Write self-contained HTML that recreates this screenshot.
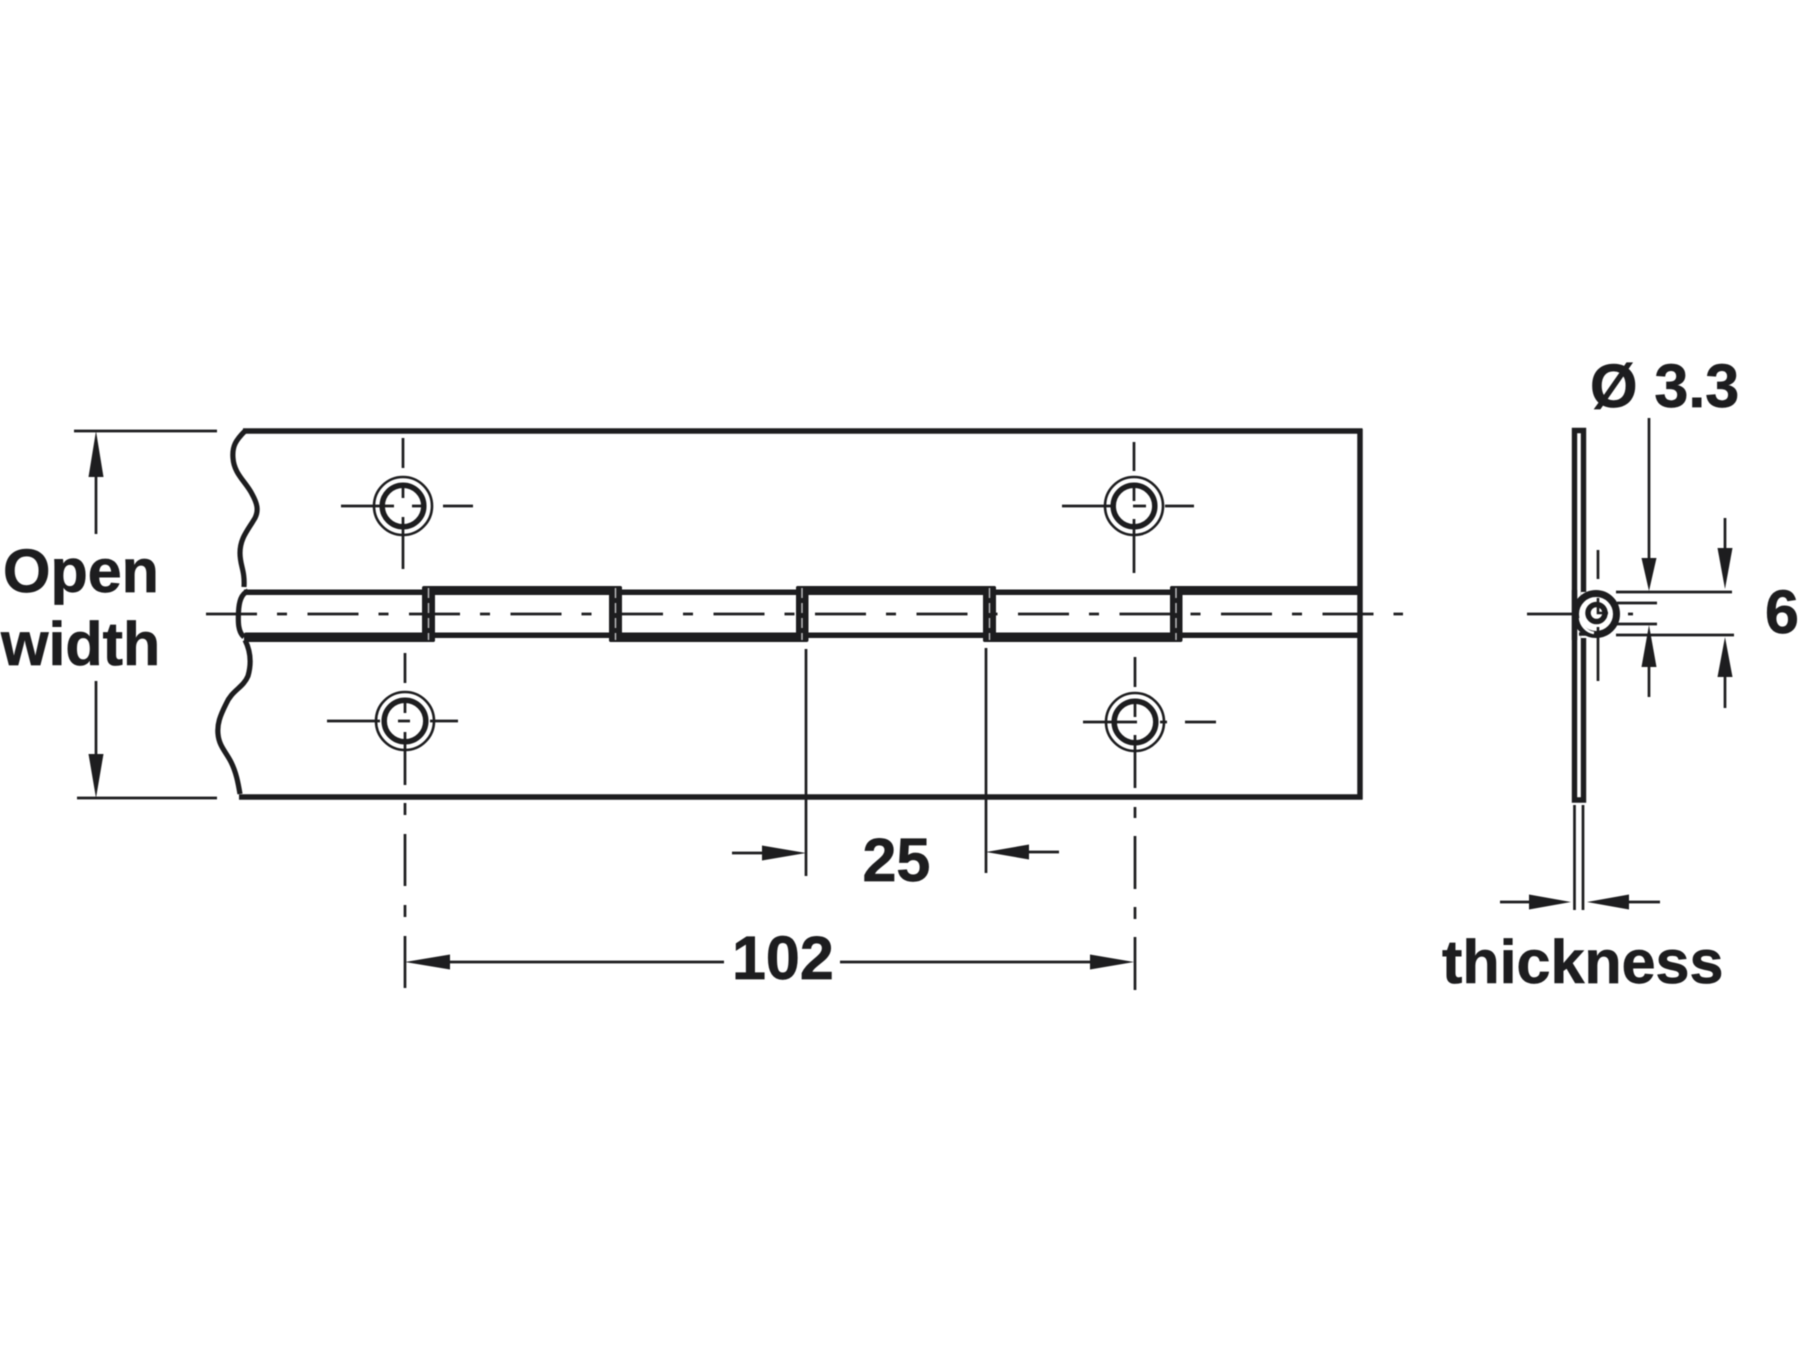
<!DOCTYPE html>
<html><head><meta charset="utf-8"><style>
html,body{margin:0;padding:0;background:#fff;width:1800px;height:1350px;overflow:hidden}
svg{display:block;filter:blur(0.5px)}
text{font-family:"Liberation Sans",Arial,sans-serif;font-weight:700;font-size:61px;fill:#1d1d1f;stroke:#1d1d1f;stroke-width:.7px}
</style></head><body>
<svg width="1800" height="1350" viewBox="0 0 1800 1350" xmlns="http://www.w3.org/2000/svg">
<rect width="1800" height="1350" fill="#fff"/>
<g fill="none" stroke="#1d1d1f" stroke-linecap="butt">
 <!-- outline -->
 <g stroke-width="5.5">
  <path d="M243 431H1362.5M239 797H1362.5"/>
  <path d="M1360 429V799.5"/>
  <path stroke-width="5.2" d="M245 431C236 440 232 446 233 458C234 474 246 482 252 494C257 503 259 510 255 518C248 530 240 538 240 553C240 566 245 570 244 587M248 591C241 594 239 602 238.5 612C238 622 238 632 244 637"/>
  <path stroke-width="5.2" d="M245 640C250 650 252 662 248 676C243 688 232 690 226 704C220 716 217 724 218 734C219 746 226 752 231 762C236 772 238 782 240 794"/>
 </g>
 <!-- centre line -->
 <path stroke-width="2.7" stroke-dasharray="51 20 10 20.5" d="M206 614H1403"/>
 <g stroke-width="2.7">
  <path d="M341 506H394M412 506H423M443 506H473M403 438V468M403 485V498M403 517V569"/>
  <path d="M327 721H380M398 721H410M430 721H458M405 653V683M405 702V713M405 732V785M405 803V815M405 834V886M405 905V917M405 936V988"/>
  <path d="M1062 506H1112M1133 506H1146M1165 506H1194M1134 442V471M1134 488V501M1134 519V573"/>
  <path d="M1083 722H1137M1160 722H1167M1185 722H1216M1135 657V687M1135 703V717M1135 735V788M1135 807V818M1135 836V889M1135 907V919M1135 937V990"/>
  <path d="M806 649V876M986 648V873"/>
  <path d="M74 431H217M77 798H217M96 477V534M96 681V754"/>
  <path d="M450 962H724M840 962H1090M732 853H765M1026 852H1059"/>
  <path d="M1649 418V560M1725 518V550M1649 665V697M1725 675V708"/>
  <path d="M1616 592H1732M1617 603H1657M1617 624H1657M1616 635H1734"/>
  <path d="M1574.5 805V910M1583 805V910M1500 902H1532M1626 902H1660"/>
  <path d="M1527 614H1576M1628 614H1633M1598 550V579M1598 627V681"/>
 </g>
 <g>
  <circle cx="403" cy="506" r="29" stroke-width="2.6"/><circle cx="403" cy="506" r="20.8" stroke-width="5.5"/>
  <circle cx="405" cy="721" r="29" stroke-width="2.6"/><circle cx="405" cy="721" r="20.8" stroke-width="5.5"/>
  <circle cx="1134" cy="506" r="29" stroke-width="2.6"/><circle cx="1134" cy="506" r="20.8" stroke-width="5.5"/>
  <circle cx="1135" cy="722" r="29" stroke-width="2.6"/><circle cx="1135" cy="722" r="20.8" stroke-width="5.5"/>
 </g>
 <!-- side plate -->
 <path stroke-width="5.4" d="M1574.5 800V430.5H1583.5V800H1574.5Z"/>
</g>
<g fill="#1d1d1f">
 <!-- barrel -->
 <rect x="244" y="589.5" width="180" height="5.5"/><rect x="621" y="589.5" width="176" height="5.5"/><rect x="995" y="589.5" width="176" height="5.5"/>
 <rect x="423" y="586" width="199" height="9" rx="2"/><rect x="796" y="586" width="200" height="9" rx="2"/><rect x="1170" y="586" width="192" height="9" rx="2"/>
 <rect x="434" y="632.5" width="176" height="5.5"/><rect x="807" y="632.5" width="177" height="5.5"/><rect x="1181" y="632.5" width="181" height="5.5"/>
 <rect x="244" y="632.5" width="191" height="9.5" rx="2"/><rect x="609" y="632.5" width="199" height="9.5" rx="2"/><rect x="983" y="632.5" width="199" height="9.5" rx="2"/>
 <rect x="422" y="586" width="13" height="56" rx="2"/><rect x="609" y="586" width="13" height="56" rx="2"/><rect x="796" y="586" width="12.5" height="56" rx="2"/><rect x="983" y="586" width="13" height="56" rx="2"/><rect x="1170" y="586" width="12.5" height="56" rx="2"/>
 <!-- arrowheads -->
 <path d="M96 431L103.5 477H88.5Z"/><path d="M96 798L103.5 754H88.5Z"/>
 <path d="M405 962L450 954.5V969.5Z"/><path d="M1134 962L1090 954.5V969.5Z"/>
 <path d="M806 853L762 845.5V860.5Z"/><path d="M986 852L1029 844.5V859.5Z"/>
 <path d="M1649 591L1641.5 558H1656.5Z"/><path d="M1725 589L1717.5 548H1732.5Z"/>
 <path d="M1649 625L1641.5 667H1656.5Z"/><path d="M1725 637L1717.5 677H1732.5Z"/>
 <path d="M1571 902L1529 894.5V909.5Z"/><path d="M1587 902L1629 894.5V909.5Z"/>
</g>
<g fill="none" stroke="#c4c4c6" stroke-width="1.4" stroke-dasharray="10 5">
 <path d="M428.5 588V640M615.5 588V640M802 588V640M989.5 588V640M1176 588V640"/>
</g>
<!-- barrel end view -->
<rect x="1581" y="592" width="8" height="46" fill="#fff"/>
<circle cx="1596" cy="614" r="20.5" fill="#fff" stroke="#1d1d1f" stroke-width="7"/>
<path d="M1574.5 590V640" stroke="#1d1d1f" stroke-width="5.4" fill="none"/>
<path d="M1579 634H1586" stroke="#1d1d1f" stroke-width="3.5" fill="none"/>
<path d="M1580 618A17 17 0 0 0 1594 633" stroke="#fff" stroke-width="2.5" fill="none"/>
<circle cx="1596.5" cy="613" r="8.5" fill="#fff" stroke="#1d1d1f" stroke-width="5.5"/>
<path d="M1598 598V613H1608" stroke="#1d1d1f" stroke-width="2.6" fill="none"/>
<path d="M1598 627V637" stroke="#1d1d1f" stroke-width="2.6" fill="none"/>
<text x="3" y="592">Open</text>
<text x="1" y="665">width</text>
<text x="862.5" y="881">25</text>
<text x="732" y="979">102</text>
<text x="1590" y="407">Ø 3.3</text>
<text x="1765" y="633">6</text>
<text x="1442" y="983">thickness</text>
</svg>
</body></html>
